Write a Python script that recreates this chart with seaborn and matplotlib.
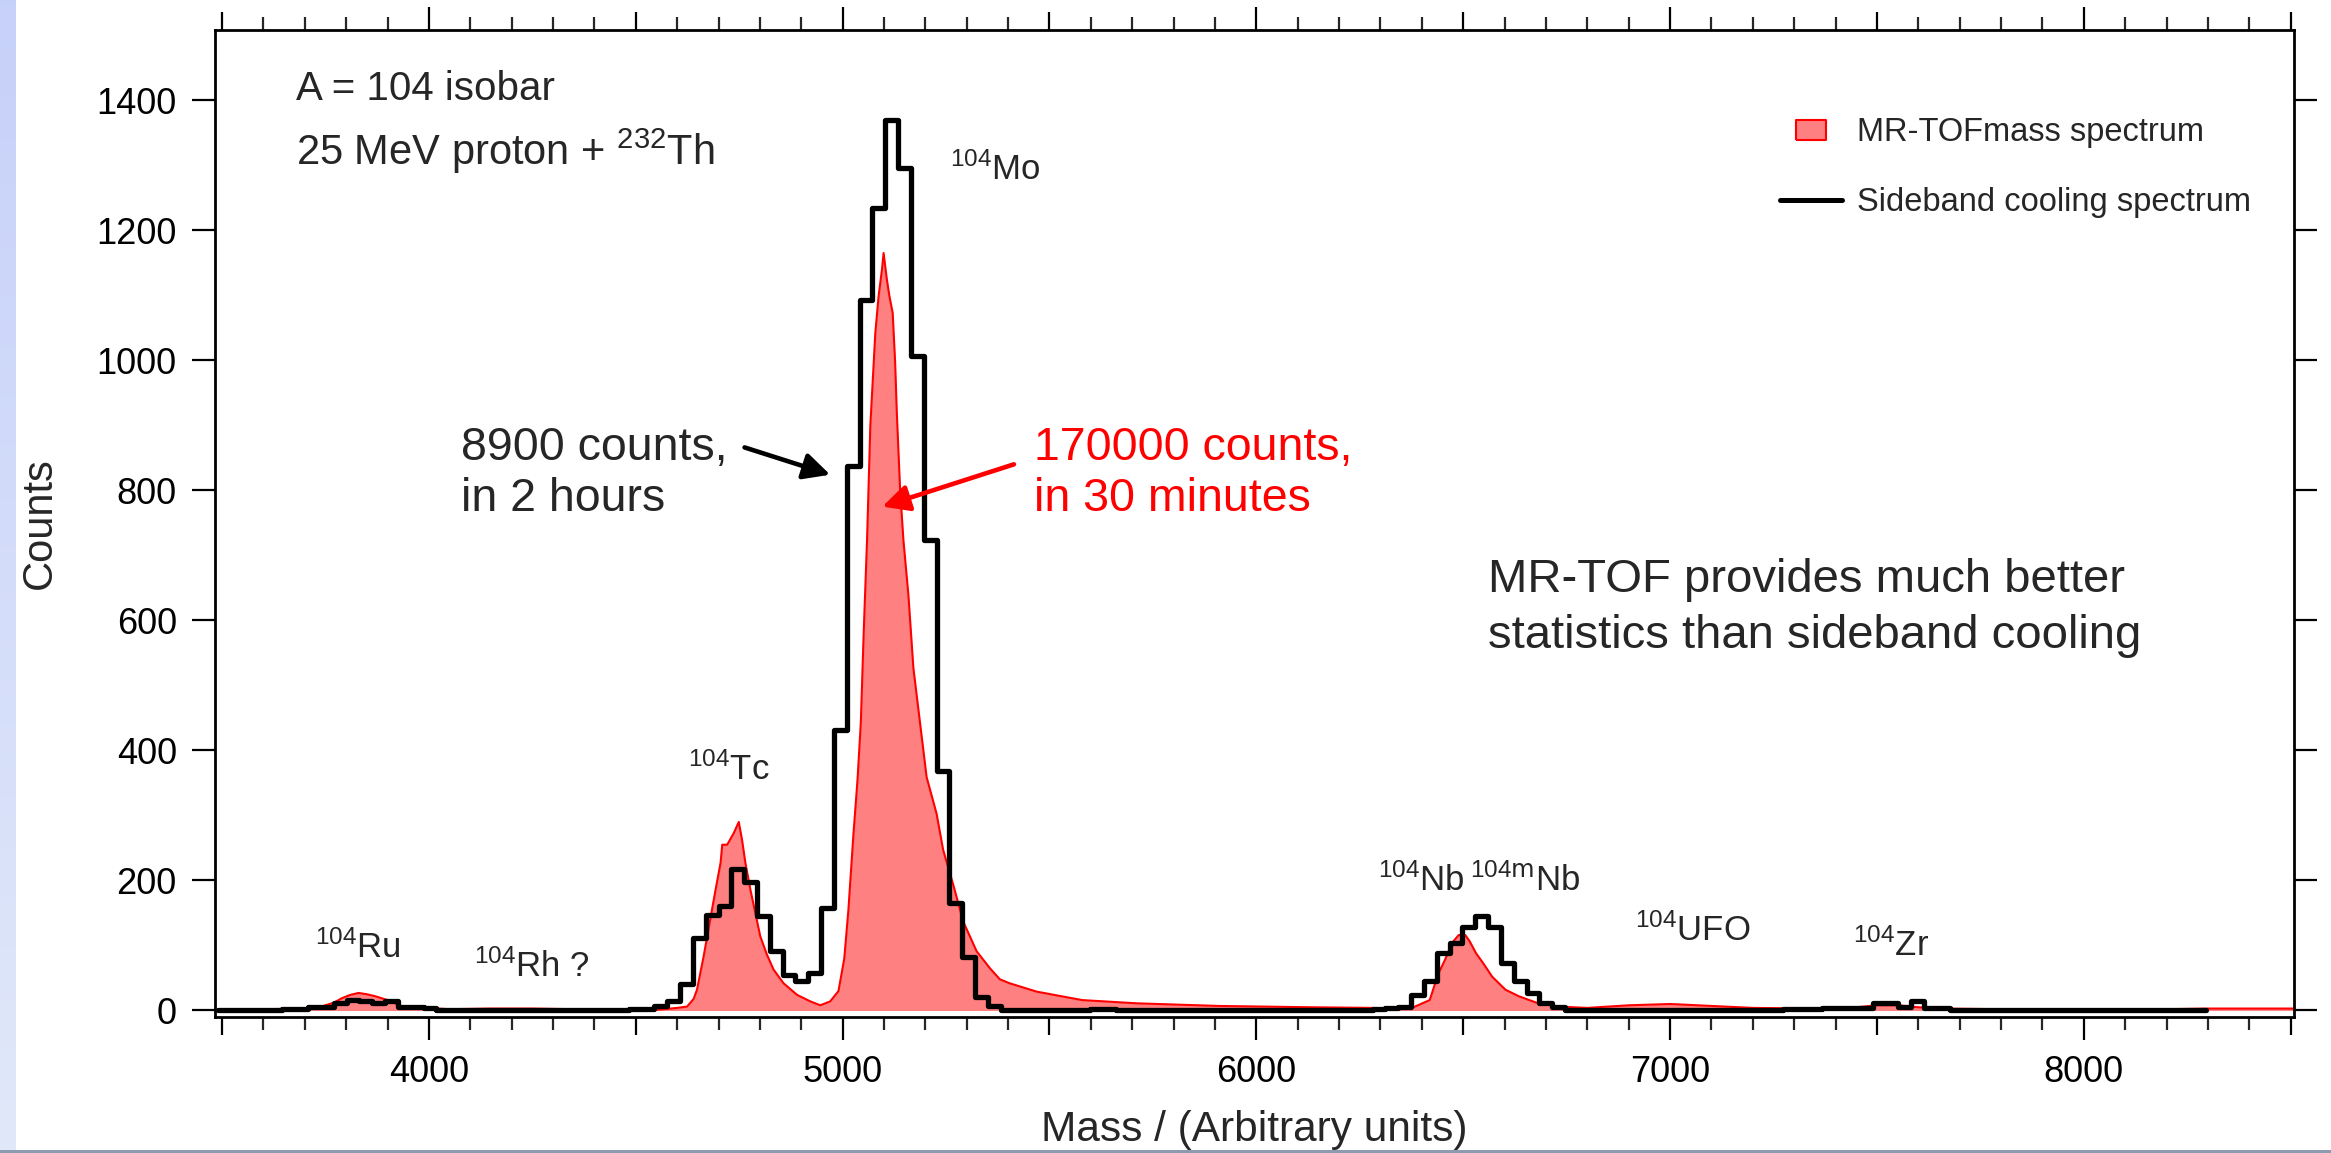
import numpy as np
import pandas as pd
import matplotlib
matplotlib.use("Agg")
import matplotlib.pyplot as plt
import seaborn as sns
from matplotlib.lines import Line2D
from matplotlib.ticker import MultipleLocator

# ---------------- data ----------------
# Sideband cooling spectrum: uniform bins starting at sb_start, width sb_width
sb_start = 3491
sb_width = 31
sb_counts = [
    0, 0, 0, 1, 1, 2, 2, 6, 6, 12, 16, 14, 12, 15, 5, 5, 4, 1,
    1, 1, 1, 1, 1, 0, 1, 1, 1, 1, 1, 1, 1,
    1, 2, 2,
    7, 14, 40, 111, 147, 160, 217, 198, 145, 91, 55, 45, 57, 157, 432,
    838, 1093, 1235, 1370, 1296, 1007, 723, 368, 166, 82, 21, 7,
    1, 1, 1, 1, 1, 1, 1, 2, 2, 1, 1, 1, 1, 1, 1, 1, 1, 1, 1, 1, 1, 1,
    1, 1, 1, 1, 1, 1, 1, 2,
    4, 5, 24, 45, 88, 104, 129, 145, 129, 73, 45, 27, 11, 6,
    1, 1, 1, 1, 1, 1, 1, 1, 1, 1, 1, 1, 1, 1, 1, 1, 1,
    2, 2, 2, 4, 4, 4, 4, 12, 12, 6, 15, 4, 4,
    1, 1, 0, 0, 0, 0, 0, 0, 0, 0, 0, 0, 0, 0, 0, 0, 0, 0, 0, 0,
]

# MR-TOF mass spectrum (read-off points)
tof_mass = [
    3490, 3600, 3700, 3740, 3770, 3790, 3810, 3830, 3850, 3870, 3890, 3910,
    3930, 3960, 3990, 4050, 4150, 4250, 4350, 4450, 4520, 4552, 4600, 4624,
    4640, 4648, 4664, 4680, 4693, 4705, 4709, 4721, 4737, 4749, 4757, 4765,
    4777, 4789, 4801, 4817, 4833, 4857, 4890, 4922, 4946, 4970, 4990, 5004,
    5014, 5026, 5036, 5044, 5051, 5059, 5067, 5079, 5087, 5095, 5099, 5107,
    5113, 5121, 5127, 5131, 5139, 5147, 5159, 5171, 5187, 5203, 5227, 5243,
    5268, 5292, 5324, 5356, 5380, 5403, 5469, 5579, 5712, 5910, 6130, 6279,
    6340, 6376, 6419, 6440, 6456, 6473, 6489, 6505, 6516, 6531, 6548, 6570,
    6602, 6634, 6677, 6731, 6800, 6900, 7000, 7100, 7200, 7350, 7450, 7500,
    7550, 7600, 7650, 7800, 8000, 8200, 8300, 8505,
]
tof_counts = [
    2, 2, 3, 6, 12, 19, 24, 27, 25, 22, 18, 14,
    7, 5, 4, 2, 3, 3, 2, 2, 1, 1, 4, 6,
    18, 32, 83, 140, 186, 227, 255, 255, 273, 290, 262, 227,
    186, 150, 114, 86, 63, 42, 24, 14, 8, 14, 30, 80,
    155, 270, 355, 443, 583, 723, 900, 1042, 1099, 1139, 1165, 1124,
    1099, 1073, 996, 919, 800, 723, 639, 527, 443, 359, 303, 247,
    192, 136, 91, 65, 48, 42, 29, 16, 11, 7, 5, 4,
    3, 4, 16, 57, 78, 104, 116, 116, 106, 88, 73, 52,
    32, 22, 12, 6, 4, 8, 10, 7, 4, 3, 5, 8,
    8, 5, 3, 2, 2, 2, 3, 3,
]

xtick_values = [3500, 4000, 4500, 5000, 5500, 6000, 6500, 7000, 7500, 8000, 8500]
xtick_labels = ["", "4000", "", "5000", "", "6000", "", "7000", "", "8000", ""]
ytick_values = [0, 200, 400, 600, 800, 1000, 1200, 1400]

isotope_texts = [r"$^{104}$Ru", r"$^{104}$Rh ?", r"$^{104}$Tc", r"$^{104}$Mo",
                 r"$^{104}$Nb", r"$^{104\mathrm{m}}$Nb", r"$^{104}$UFO", r"$^{104}$Zr"]
isotope_x = [3725, 4109, 4627, 5260, 6295, 6517, 6915, 7441]
isotope_y = [81, 52, 355, 1278, 184, 184, 107, 84]

legend_labels = ["MR-TOFmass spectrum", "Sideband cooling spectrum"]

# ---------------- style ----------------
sns.set_style("white")
plt.rcParams["font.family"] = ["Liberation Sans", "DejaVu Sans"]
plt.rcParams["mathtext.default"] = "regular"
plt.rcParams["axes.linewidth"] = 2.0

W, H = 2331, 1153
fig = plt.figure(figsize=(W / 100, H / 100), dpi=100)
fig.patch.set_facecolor("white")

L, R, T, B = 215, 2294, 30, 1017
ax = fig.add_axes([L / W, 1 - B / H, (R - L) / W, (B - T) / H])

# slide background strips
strip = fig.add_axes([0, 0, 16 / W, 1])
g = np.linspace(0, 1, 256)[:, None, None]
top_c = np.array([0.78, 0.82, 0.98])[None, None, :]
bot_c = np.array([0.88, 0.91, 0.98])[None, None, :]
img = top_c * (1 - g) + bot_c * g
strip.imshow(img, aspect="auto")
strip.axis("off")
bstrip = fig.add_axes([0, 0, 1, 3 / H])
bstrip.set_facecolor("#8d9ab0")
bstrip.set_xticks([]); bstrip.set_yticks([])
for s in bstrip.spines.values():
    s.set_visible(False)

# ---------------- plot ----------------
tof_df = pd.DataFrame({"mass": tof_mass, "counts": tof_counts})
ax.fill_between(tof_df["mass"], tof_df["counts"], 0, color="#ff8080", lw=0, zorder=1)
sns.lineplot(data=tof_df, x="mass", y="counts", color="red", lw=1.5, estimator=None,
             sort=False, ax=ax, zorder=2)

sb_edges = (sb_start + sb_width * np.arange(len(sb_counts) + 1)).tolist()
sb_df = pd.DataFrame({"mass": [(a + b) / 2.0 for a, b in zip(sb_edges[:-1], sb_edges[1:])],
                      "counts": [float(c) for c in sb_counts]})
sns.histplot(data=sb_df, x="mass", weights="counts", bins=sb_edges, element="step",
             fill=False, color="black", linewidth=3.8, ax=ax, zorder=3)

ax.set_xlim(3483, 8508)
ax.set_ylim(-10, 1508)
ax.set_xticks(xtick_values, labels=xtick_labels)
ax.xaxis.set_minor_locator(MultipleLocator(100))
ax.set_yticks(ytick_values)
ax.tick_params(which="major", direction="out", length=16.5, width=1.6,
               top=True, right=True, bottom=True, left=True,
               labelsize=26, pad=11, colors="black")
ax.tick_params(axis="x", which="minor", direction="out", length=9.4, width=1.6,
               top=True, bottom=True)
ax.tick_params(axis="y", which="minor", left=False, right=False)
for t, v in zip(ax.xaxis.get_major_ticks(), xtick_values):
    if v % 1000:
        t.tick1line.set_markersize(13)
        t.tick2line.set_markersize(13)
for s in ax.spines.values():
    s.set_visible(True)
    s.set_color("black")
    s.set_linewidth(2.0)

ax.set_xlabel("Mass / (Arbitrary units)", fontsize=30.5, labelpad=14)
ax.set_ylabel("Counts", fontsize=30, labelpad=26)

# ---------------- annotations ----------------
ax.text(3679, 1401, "A = 104 isobar", fontsize=29, va="baseline")
ax.text(3679, 1301, r"25 MeV proton + $^{232}$Th", fontsize=30, va="baseline")
ax.text(4078, 846, "8900 counts,", fontsize=33.5, va="baseline")
ax.text(4078, 768, "in 2 hours", fontsize=33.5, va="baseline")
ax.text(5462, 846, "170000 counts,", fontsize=33.5, va="baseline", color="red")
ax.text(5462, 768, "in 30 minutes", fontsize=33.5, va="baseline", color="red")
ax.text(6560, 644, "MR-TOF provides much better", fontsize=34, va="baseline")
ax.text(6560, 558, "statistics than sideband cooling", fontsize=34, va="baseline")

for s, x, y in zip(isotope_texts, isotope_x, isotope_y):
    ax.text(x, y, s, fontsize=25, va="baseline", ha="left")

ax.annotate("", xy=(4970, 824), xytext=(4763, 866),
            arrowprops=dict(arrowstyle="-|>", color="black", lw=3.3,
                            mutation_scale=40, shrinkA=0, shrinkB=0), zorder=5)
ax.annotate("", xy=(5096, 775), xytext=(5414, 840),
            arrowprops=dict(arrowstyle="-|>", color="red", lw=3.3,
                            mutation_scale=40, shrinkA=0, shrinkB=0), zorder=5)

# ---------------- legend ----------------
rect_marker = [(-1.5, -1), (1.5, -1), (1.5, 1), (-1.5, 1), (-1.5, -1)]
h1 = Line2D([], [], linestyle="none", marker=rect_marker, markersize=22,
            markerfacecolor="#ff8080", markeredgecolor="red", markeredgewidth=1.5)
h2 = Line2D([], [], color="black", lw=3.6)
lx = (1780 - L) / (R - L)
ly = (B - 117) / (B - T)
leg = ax.legend([h1, h2], legend_labels, loc="upper left", bbox_to_anchor=(lx, ly),
                frameon=False, fontsize=23.5, handlelength=1.9, handletextpad=0.45,
                labelspacing=1.2, borderaxespad=0, borderpad=0)

fig.savefig("out.png", dpi=100)
